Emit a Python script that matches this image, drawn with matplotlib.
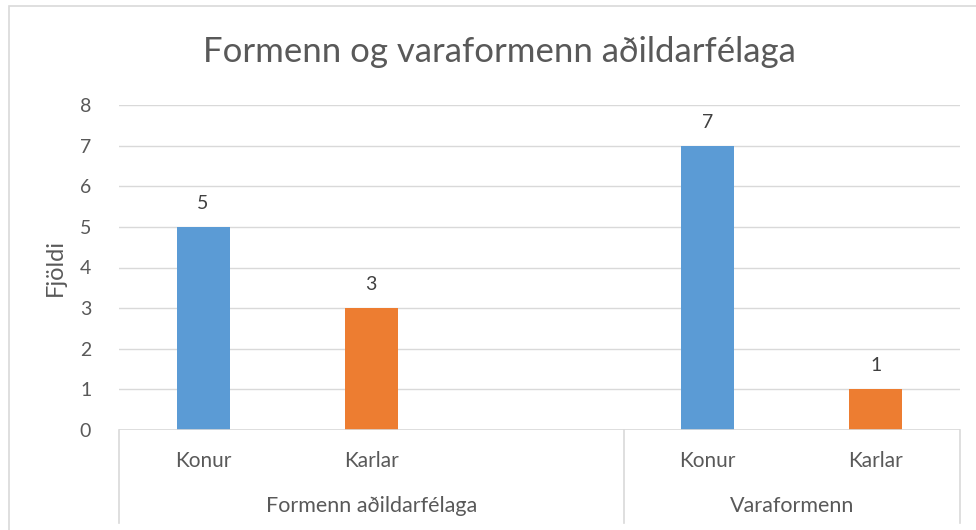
import matplotlib
matplotlib.use("Agg")
import matplotlib.pyplot as plt
from matplotlib.patches import Rectangle
import matplotlib.transforms as mtransforms

# Data
groups = ["Formenn aðildarfélaga", "Varaformenn"]
categories = ["Konur", "Karlar", "", "Konur", "Karlar"]
values = [5, 3, None, 7, 1]
bar_colors = ["#5B9BD5", "#ED7D31", None, "#5B9BD5", "#ED7D31"]
group_slots = [(0, 3), (3, 5)]
yticks = [0, 1, 2, 3, 4, 5, 6, 7, 8]

text_color = "#595959"
grid_color = "#D9D9D9"
plt.rcParams['font.family'] = ['Lato', 'DejaVu Sans']

fig = plt.figure(figsize=(9.76, 5.30), dpi=100)
ax = fig.add_axes([119 / 976, 1 - 430 / 530, (960 - 119) / 976, (430 - 105) / 530])

# chart border
fig.patches.append(Rectangle((9 / 976, -0.1), 1.2, 1 - 6 / 530 + 0.1,
                             transform=fig.transFigure, fill=False,
                             edgecolor=grid_color, linewidth=1.2))

for i, (v, c) in enumerate(zip(values, bar_colors)):
    if v is None:
        continue
    ax.bar(i, v, width=0.315, color=c, zorder=3)
    ax.annotate(str(v), (i, v), xytext=(0, 17), textcoords="offset points",
                ha="center", va="center", fontsize=14, color="#404040")

ax.set_xlim(-0.5, len(categories) - 0.5)
ax.set_ylim(0, 8)
ax.set_yticks(yticks)
ax.tick_params(axis="y", length=0, pad=20, labelsize=14, labelcolor=text_color)
ax.set_xticks([])
ax.grid(axis="y", color=grid_color, linewidth=1, zorder=0)
for s in ax.spines.values():
    s.set_visible(False)
ax.axhline(0, color=grid_color, linewidth=1.2, zorder=4)

ax.set_ylabel("Fjöldi", fontsize=17, color=text_color, labelpad=10)
fig.text(499 / 976, 1 - 52 / 530, "Formenn og varaformenn aðildarfélaga",
         ha="center", va="center", fontsize=25, color=text_color)

# multi-level category axis
trans = mtransforms.blended_transform_factory(ax.transData, ax.transAxes)
for i, lab in enumerate(categories):
    if lab:
        ax.text(i, -31 / 325, lab, transform=trans, ha="center", va="center",
                fontsize=15, color=text_color)
edges = sorted({e for g in group_slots for e in g})
for e in edges:
    ax.plot([e - 0.5, e - 0.5], [0, -93 / 325], transform=trans,
            color=grid_color, linewidth=1.2, clip_on=False)
for name, (a, b) in zip(groups, group_slots):
    ax.text((a + b - 1) / 2, -76 / 325, name, transform=trans, ha="center",
            va="center", fontsize=15.5, color=text_color)

fig.savefig("out.png", dpi=100)
